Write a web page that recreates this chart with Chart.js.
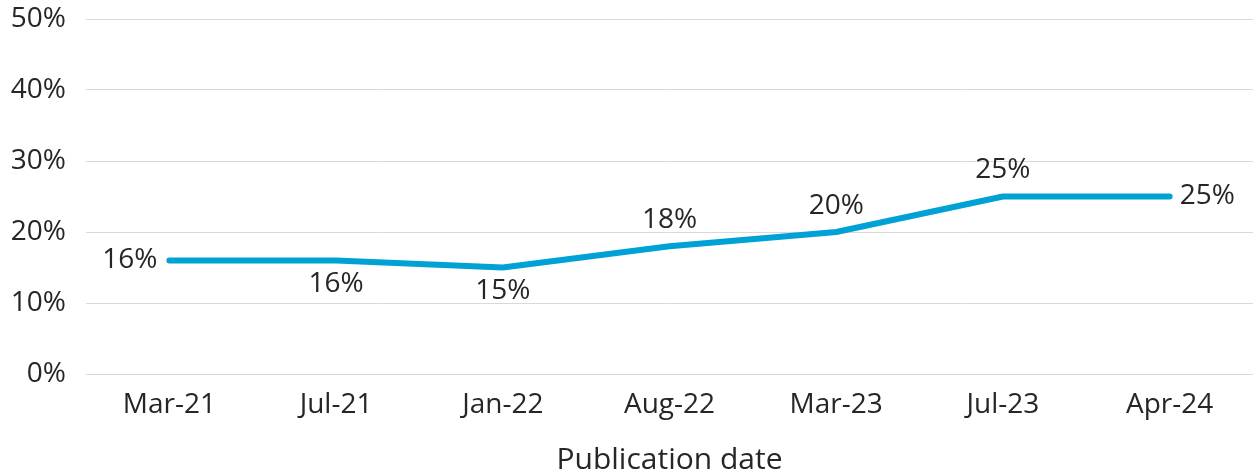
<!DOCTYPE html>
<html><head><meta charset="utf-8">
<script src="https://cdn.jsdelivr.net/npm/chart.js@4.4.1/dist/chart.umd.min.js"></script>
<style>html,body{margin:0;padding:0;background:#fff}#wrap{width:1253px;height:476px}</style>
</head><body><div id="wrap"><canvas id="c" width="1253" height="476"></canvas></div>
<script>
const categories = ["Mar-21","Jul-21","Jan-22","Aug-22","Mar-23","Jul-23","Apr-24"];
const values = [16,16,15,18,20,25,25];
const labelPlacement = ["left","below","below","above","above","above","right"];
const yTicks = [0,10,20,30,40,50];

const FONT = "'Open Sans', 'Noto Sans', sans-serif";
const TEXT = "#262626";
const FS = 28;

const labelPlugin = {
  id: 'pointLabels',
  afterDatasetsDraw(chart) {
    const ctx = chart.ctx;
    const meta = chart.getDatasetMeta(0);
    ctx.save();
    ctx.font = FS + "px " + FONT;
    ctx.fillStyle = TEXT;
    meta.data.forEach((pt, i) => {
      const txt = values[i] + "%";
      const pos = labelPlacement[i];
      let x = pt.x, y = pt.y;
      ctx.textAlign = 'center'; ctx.textBaseline = 'middle';
      if (pos === 'left') { ctx.textAlign = 'right'; x -= 12; }
      else if (pos === 'right') { ctx.textAlign = 'left'; x += 10; }
      else if (pos === 'above') { y -= 26; }
      else if (pos === 'below') { y += 24; }
      ctx.fillText(txt, x, y);
    });
    ctx.restore();
  }
};

new Chart(document.getElementById('c'), {
  type: 'line',
  data: {
    labels: categories,
    datasets: [{
      data: values,
      borderColor: '#00A2D5',
      borderWidth: 6,
      borderCapStyle: 'round',
      borderJoinStyle: 'round',
      pointRadius: 0,
      tension: 0,
      fill: false
    }]
  },
  options: {
    responsive: false,
    animation: false,
    events: [],
    layout: { padding: { top: 19, right: 0, left: 0, bottom: 0 } },
    plugins: { legend: { display: false }, tooltip: { enabled: false } },
    scales: {
      x: {
        offset: true,
        grid: { display: false, drawTicks: false },
        border: { display: true, color: '#d9d9d9', width: 1 },
        ticks: { color: TEXT, font: { family: FONT, size: FS }, padding: 14, maxRotation: 0 },
        title: { display: true, text: 'Publication date', color: TEXT, font: { family: FONT, size: 30 }, padding: { top: 13, bottom: -2 } },
        afterFit(s) { s.height = 102; s.paddingLeft = 0; s.paddingRight = 0; }
      },
      y: {
        min: 0, max: 50,
        afterBuildTicks(s) { s.ticks = yTicks.map(v => ({ value: v })); },
        grid: { color: '#d9d9d9', lineWidth: 1, drawTicks: false },
        border: { display: false },
        ticks: { color: TEXT, font: { family: FONT, size: FS }, padding: 20, callback: v => v + '%' },
        afterFit(s) { s.width = 86; s.paddingTop = 0; s.paddingBottom = 0; }
      }
    }
  },
  plugins: [labelPlugin]
});
</script></body></html>
